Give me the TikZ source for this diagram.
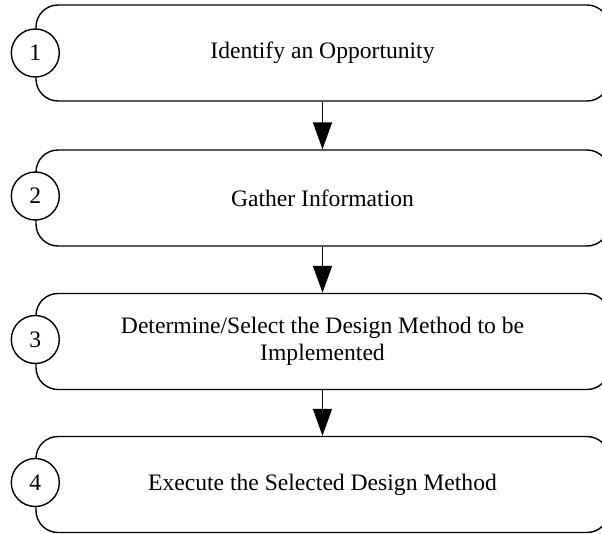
\documentclass[tikz,border=0pt]{standalone}
\usepackage{fontspec}
\setmainfont{Liberation Serif}
\usetikzlibrary{arrows.meta}
\begin{document}
\begin{tikzpicture}[x=1pt,y=-1pt,
  stepbox/.style={draw, line width=1.4pt, rounded corners=22pt, minimum width=573pt, minimum height=96pt, align=center, font=\fontsize{23.6}{26.5}\selectfont, inner sep=0pt},
  numcirc/.style={draw, circle, fill=white, line width=1.4pt, minimum size=48pt, inner sep=0pt, font=\fontsize{23.6}{26.5}\selectfont},
  flow/.style={line width=1.4pt, -{Triangle[length=27pt,width=19pt]}}]
\useasboundingbox (0,0) rectangle (602,533);
\clip (0,0) rectangle (602,533);
\node[stepbox] (b1) at (322.5,53) {Identify an Opportunity};
\node[stepbox] (b2) at (322.5,198) {Gather Information};
\node[stepbox] (b3) at (322.5,341.5) {Determine/Select the Design Method to be\\Implemented};
\node[stepbox] (b4) at (322.5,484.5) {Execute the Selected Design Method};
\node[numcirc] (c1) at (b1.west) {1};
\node[numcirc] (c2) at ([yshift=2pt]b2.west) {2};
\node[numcirc] (c3) at ([yshift=2pt]b3.west) {3};
\node[numcirc] (c4) at ([yshift=2pt]b4.west) {4};
\draw[flow] (b1.south) -- (b2.north);
\draw[flow] (b2.south) -- (b3.north);
\draw[flow] (b3.south) -- (b4.north);
\end{tikzpicture}
\end{document}
